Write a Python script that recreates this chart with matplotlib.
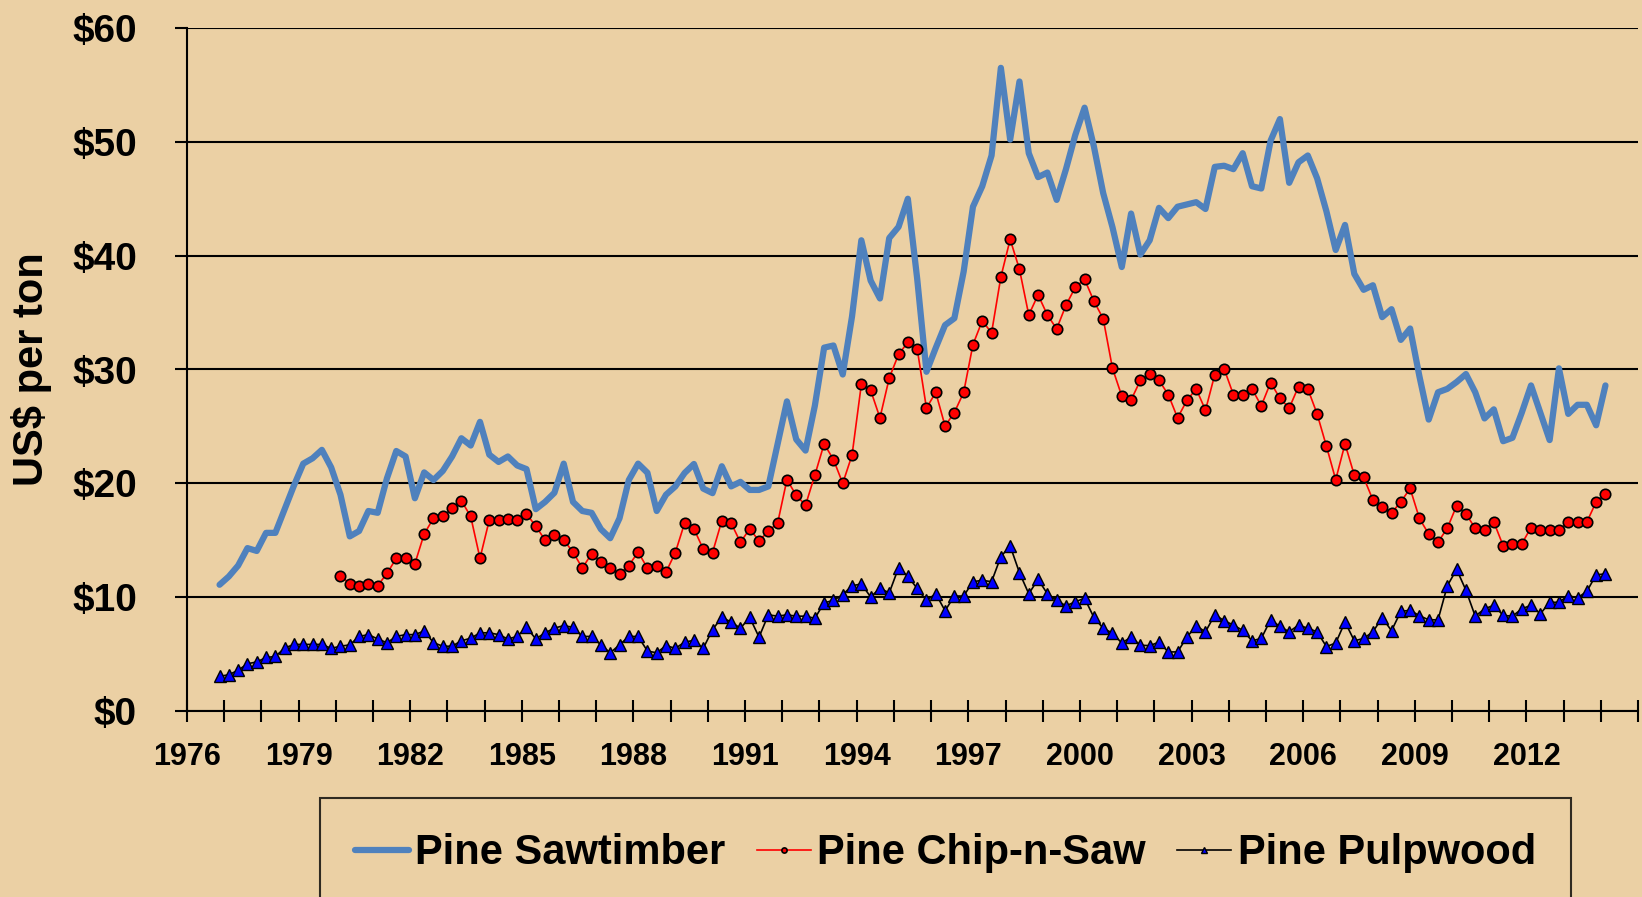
import numpy as np
import matplotlib
matplotlib.use('Agg')
import matplotlib.pyplot as plt
from matplotlib.ticker import FixedLocator, FuncFormatter

plt.rcParams['font.family'] = ['Liberation Sans', 'DejaVu Sans']
plt.rcParams['font.weight'] = 'bold'

# quarterly prices, first quarter = Q4 1976
first_year, first_quarter = 1976, 4

sawtimber = [11.09, 11.82, 12.78, 14.31, 14.06, 15.65, 15.65, 17.73, 19.81, 21.73, 22.2, 22.94,
             21.4, 19.0, 15.34, 15.81, 17.57, 17.41, 20.45, 22.84, 22.36, 18.69, 20.96,
             20.29, 21.09, 22.36, 23.96, 23.32, 25.40, 22.52, 21.88, 22.36, 21.57, 21.25, 17.73,
             18.37, 19.17, 21.73, 18.37, 17.57, 17.41, 15.97, 15.18, 16.93, 20.29, 21.73, 20.93, 17.57,
             19.0,
             19.73, 20.91, 21.70, 19.54, 19.14, 21.50, 19.73, 20.13, 19.42, 19.42, 19.73, 23.47, 27.20,
             23.86, 22.88, 26.81, 31.92, 32.11, 29.56, 34.67, 41.35, 37.81, 36.24, 41.55, 42.53,
             45.0,
             38.0, 29.8, 31.9, 33.9, 34.5, 38.6, 44.3, 46.1, 48.8, 56.5, 50.2, 55.3, 49.0, 46.9, 47.3,
             44.9, 47.6, 50.6, 53.0, 49.6, 45.5, 42.5, 39.0, 43.7, 40.1,
             41.35,
             44.2, 43.3, 44.3, 44.5, 44.7, 44.1, 47.8, 47.9, 47.6, 49.0, 46.1, 45.9, 50.1, 52.0, 46.4,
             48.2, 48.8, 46.8, 43.9, 40.5, 42.7, 38.4, 37.0, 37.4, 34.6,
             35.3, 32.6, 33.6, 29.4, 25.6, 28.0, 28.3, 28.9, 29.6, 28.0, 25.7, 26.5, 23.7, 24.0, 26.2,
             28.6, 26.2, 23.8, 30.1, 26.1, 26.9, 26.9, 25.1, 28.6]

# chip-n-saw series begins in Q1 1980
chip_start = 13
chip_n_saw = [11.88, 11.18, 11.02, 11.18, 11.02, 12.08, 13.42, 13.42, 12.94, 15.56,
              16.93, 17.09, 17.80, 18.47, 17.09, 13.42, 16.77, 16.77, 16.87, 16.77, 17.32, 16.23,
              15.02, 15.50, 15.02, 13.96, 12.56, 13.80, 13.10, 12.56, 12.04, 12.78, 13.96, 12.56, 12.78,
              12.2,
              13.92, 16.51, 16.0, 14.23, 13.92, 16.71, 16.51, 14.82, 16.0, 14.94, 15.80, 16.51, 20.32,
              18.95, 18.08, 20.72, 23.47, 22.09, 20.0, 22.48, 28.69, 28.18, 25.75, 29.25, 31.33,
              32.39,
              31.84, 26.61, 27.99, 25.04, 26.22, 27.99, 32.19, 34.28, 33.22, 38.13, 41.43, 38.80, 34.79,
              36.56, 34.79, 33.57, 35.65, 37.22, 37.93, 36.01, 34.47, 30.11, 27.67, 27.32, 29.05,
              29.6,
              29.05, 27.79, 25.75, 27.28, 28.30, 26.42, 29.56, 30.07, 27.79, 27.79, 28.30, 26.81, 28.85,
              27.48, 26.61, 28.50, 28.30, 26.10, 23.27, 20.32, 23.47, 20.72, 20.52, 18.55, 17.89,
              17.4, 18.37, 19.55, 16.92, 15.54, 14.84, 16.06, 18.04, 17.31, 16.06, 15.90, 16.60, 14.52,
              14.68, 14.68, 16.12, 15.90, 15.90, 15.90, 16.60, 16.60, 16.60, 18.37, 19.07]

pulpwood = [3.04, 3.19, 3.58, 4.15, 4.31, 4.70, 4.79, 5.53, 5.85, 5.85, 5.85, 5.85, 5.50, 5.69,
            5.81, 6.55, 6.71, 6.33, 6.0, 6.55, 6.71, 6.71, 7.03,
            6.0, 5.69, 5.69, 6.17, 6.39, 6.87, 6.87, 6.71, 6.33, 6.55, 7.35, 6.33, 6.87, 7.28, 7.5,
            7.35, 6.55, 6.55, 5.81, 5.11, 5.81, 6.55, 6.55, 5.27, 5.11,
            5.75,
            5.50, 6.05, 6.21, 5.50, 7.15, 8.22, 7.82, 7.27, 8.22, 6.49, 8.45, 8.33, 8.45, 8.33, 8.33,
            8.14, 9.51, 9.71, 10.22, 11.0, 11.16, 10.02, 10.77, 10.38, 12.58,
            11.83,
            10.77, 9.71, 10.30, 8.81, 10.10, 10.10, 11.36, 11.48, 11.36, 13.56, 14.50, 12.15, 10.30,
            11.56, 10.30, 9.71, 9.24, 9.59, 9.91, 8.22, 7.27, 6.84, 5.97, 6.49, 5.78,
            5.74,
            6.05, 5.19, 5.19, 6.49, 7.47, 6.96, 8.45, 7.94, 7.55, 7.08, 6.17, 6.37, 8.02, 7.43, 6.96,
            7.55, 7.27, 6.96, 5.66, 5.97, 7.82, 6.17, 6.37, 6.96, 8.2,
            7.05, 8.75, 8.85, 8.37, 8.01, 8.01, 11.0, 12.44, 10.61, 8.33, 8.97, 9.29, 8.40, 8.33, 8.97,
            9.29, 8.53, 9.55, 9.55, 10.13, 9.94, 10.51, 11.96, 12.05]

year_labels = list(range(1976, 2013, 3))
y_ticks = [0, 10, 20, 30, 40, 50, 60]

# quarter midpoints on a year axis
t0 = first_year + (first_quarter - 1) * 0.25 + 0.125
t = t0 + 0.25 * np.arange(len(sawtimber))
t_chip = t[chip_start:chip_start + len(chip_n_saw)]

bg = '#EBD0A4'
fig = plt.figure(figsize=(16.42, 8.97), dpi=100, facecolor=bg)
ax = fig.add_axes([187 / 1642, 1 - 711 / 897, (1638 - 187) / 1642, (711 - 28) / 897])
ax.set_facecolor(bg)

ax.plot(t, sawtimber, color='#4F81BD', lw=4.5, solid_joinstyle='round', solid_capstyle='round',
        label='Pine Sawtimber', zorder=3)
ax.plot(t_chip, chip_n_saw, color='red', lw=1.2, marker='o', ms=7.5, mfc='red', mec='black',
        mew=1.2, label='Pine Chip-n-Saw', zorder=4)
ax.plot(t, pulpwood, color='black', lw=1.2, marker='^', ms=8, mfc='#0000FF', mec='black',
        mew=1.0, label='Pine Pulpwood', zorder=4)

ax.set_xlim(1976, 2015)
ax.set_ylim(0, 60)
ax.set_yticks(y_ticks)
ax.yaxis.set_major_formatter(FuncFormatter(lambda v, p: f'${v:.0f}'))
ax.grid(axis='y', color='black', lw=1.5)
ax.set_axisbelow(True)

years = np.arange(1976, 2016)
ax.xaxis.set_major_locator(FixedLocator(years))
ax.set_xticklabels([str(y) if y in year_labels else '' for y in years])

for s in ['top', 'right']:
    ax.spines[s].set_visible(False)
ax.spines['left'].set_linewidth(1.5)
ax.spines['bottom'].set_linewidth(1.5)

ax.tick_params(axis='y', direction='out', length=9, width=1.5, pad=27, labelsize=28)
ax.tick_params(axis='x', direction='inout', length=16, width=1.5, pad=14, labelsize=22)

ax.set_ylabel('US$ per ton', fontsize=30, fontweight='bold')
ax.yaxis.set_label_coords(-0.093, 0.5)

leg = fig.legend(loc='upper center', bbox_to_anchor=(0.5758, 1 - 798 / 897), ncol=3,
                 prop={'weight': 'bold', 'size': 30}, frameon=True, fancybox=False,
                 borderpad=0.85, borderaxespad=0, handlelength=1.3, handletextpad=0.15,
                 columnspacing=0.75, markerscale=0.5)
leg.get_frame().set_edgecolor('black')
leg.get_frame().set_linewidth(1.5)
leg.get_frame().set_facecolor(bg)

fig.savefig('out.png', dpi=100, facecolor=bg)
